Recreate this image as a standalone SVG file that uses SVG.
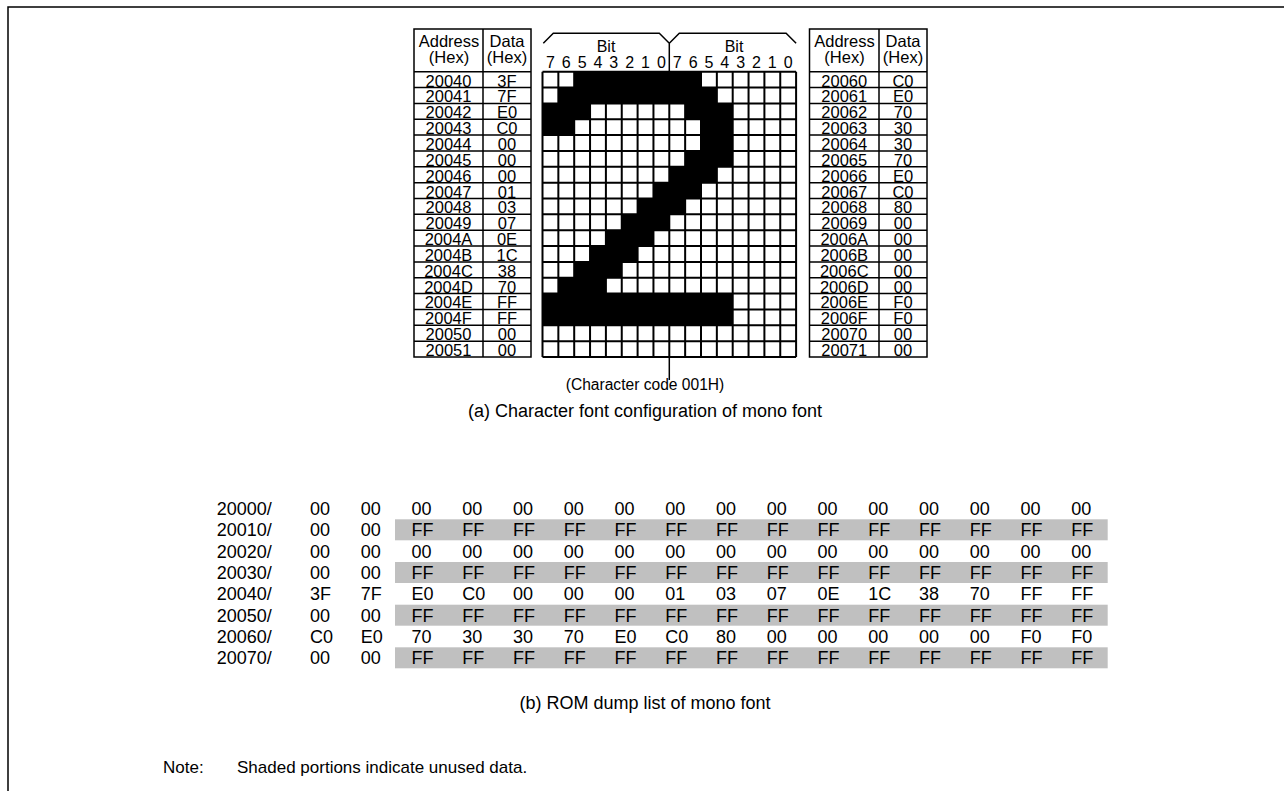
<svg xmlns="http://www.w3.org/2000/svg" width="1284" height="791" viewBox="0 0 1284 791">
<style>
text{font-family:"Liberation Sans",Arial,sans-serif;fill:#000}
.t{font-size:16.5px}
.b{font-size:16px}
.cc{font-size:15.6px}
.c{text-anchor:middle}
.cap{font-size:18px}
.n{font-size:17px}
.d{font-size:18px}
.ln{fill:none;stroke:#000;stroke-width:1.5}
.gl{fill:none;stroke:#000;stroke-width:2}
.band{fill:#c0c0c0}
</style>
<rect width="1284" height="791" fill="#fff"/>
<g id="frame"><path d="M8 791V7H1284" class="ln" stroke-width="2"/></g>

<g id="left-table">
<rect x="414" y="29" width="117" height="328" class="ln"/>
<path class="ln" d="M483 29V357M414 71.7H531M414 87.55H531M414 103.4H531M414 119.25H531M414 135.1H531M414 150.95H531M414 166.8H531M414 182.65H531M414 198.5H531M414 214.35H531M414 230.2H531M414 246.05H531M414 261.9H531M414 277.75H531M414 293.6H531M414 309.45H531M414 325.3H531M414 341.15H531"/>
<text class="t c" x="449" y="47">Address</text>
<text class="t c" x="449" y="62.5">(Hex)</text>
<text class="t c" x="507" y="47">Data</text>
<text class="t c" x="507" y="62.5">(Hex)</text>
<g class="t c">
<text x="448.5" y="86.5">20040</text><text x="448.5" y="102.4">20041</text><text x="448.5" y="118.2">20042</text><text x="448.5" y="134.1">20043</text><text x="448.5" y="149.9">20044</text><text x="448.5" y="165.8">20045</text><text x="448.5" y="181.6">20046</text><text x="448.5" y="197.5">20047</text><text x="448.5" y="213.3">20048</text><text x="448.5" y="229.2">20049</text><text x="448.5" y="245">2004A</text><text x="448.5" y="260.9">2004B</text><text x="448.5" y="276.7">2004C</text><text x="448.5" y="292.6">2004D</text><text x="448.5" y="308.4">2004E</text><text x="448.5" y="324.3">2004F</text><text x="448.5" y="340.1">20050</text><text x="448.5" y="356">20051</text>
<text x="507" y="86.5">3F</text><text x="507" y="102.4">7F</text><text x="507" y="118.2">E0</text><text x="507" y="134.1">C0</text><text x="507" y="149.9">00</text><text x="507" y="165.8">00</text><text x="507" y="181.6">00</text><text x="507" y="197.5">01</text><text x="507" y="213.3">03</text><text x="507" y="229.2">07</text><text x="507" y="245">0E</text><text x="507" y="260.9">1C</text><text x="507" y="276.7">38</text><text x="507" y="292.6">70</text><text x="507" y="308.4">FF</text><text x="507" y="324.3">FF</text><text x="507" y="340.1">00</text><text x="507" y="356">00</text>
</g>
</g>

<g id="bit-header">
<path class="ln" d="M543.3 43.3L553.3 33.3H659.3L669.3 43.3M669.3 43.3L679.3 33.3H786.1L796.1 43.3M669.3 43.3V71.7"/>
<text class="b c" x="606" y="52">Bit</text>
<text class="b c" x="734" y="52">Bit</text>
<g class="b c">
<text x="550.4" y="67.5">7</text><text x="566.3" y="67.5">6</text><text x="582.1" y="67.5">5</text><text x="598" y="67.5">4</text><text x="613.8" y="67.5">3</text><text x="629.7" y="67.5">2</text><text x="645.5" y="67.5">1</text><text x="661.4" y="67.5">0</text>
<text x="677.2" y="67.5">7</text><text x="693.1" y="67.5">6</text><text x="708.9" y="67.5">5</text><text x="724.8" y="67.5">4</text><text x="740.6" y="67.5">3</text><text x="756.5" y="67.5">2</text><text x="772.3" y="67.5">1</text><text x="788.2" y="67.5">0</text>
</g>
</g>

<g id="font-grid">
<rect x="542.5" y="71.7" width="253.6" height="285.3" fill="#fff"/>
<g fill="#000">
<rect x="574.2" y="71.7" width="126.8" height="15.85"/>
<rect x="558.35" y="87.55" width="158.5" height="15.85"/>
<rect x="542.5" y="103.4" width="47.55" height="15.85"/><rect x="685.15" y="103.4" width="47.55" height="15.85"/>
<rect x="542.5" y="119.25" width="31.7" height="15.85"/><rect x="701" y="119.25" width="31.7" height="15.85"/>
<rect x="701" y="135.1" width="31.7" height="15.85"/>
<rect x="685.15" y="150.95" width="47.55" height="15.85"/>
<rect x="669.3" y="166.8" width="47.55" height="15.85"/>
<rect x="653.45" y="182.65" width="47.55" height="15.85"/>
<rect x="637.6" y="198.5" width="47.55" height="15.85"/>
<rect x="621.75" y="214.35" width="47.55" height="15.85"/>
<rect x="605.9" y="230.2" width="47.55" height="15.85"/>
<rect x="590.05" y="246.05" width="47.55" height="15.85"/>
<rect x="574.2" y="261.9" width="47.55" height="15.85"/>
<rect x="558.35" y="277.75" width="47.55" height="15.85"/>
<rect x="542.5" y="293.6" width="190.2" height="31.7"/>
</g>
<path class="gl" d="M542.5 71.7V357M558.35 71.7V357M574.2 71.7V357M590.05 71.7V357M605.9 71.7V357M621.75 71.7V357M637.6 71.7V357M653.45 71.7V357M669.3 71.7V357M685.15 71.7V357M701 71.7V357M716.85 71.7V357M732.7 71.7V357M748.55 71.7V357M764.4 71.7V357M780.25 71.7V357M796.1 71.7V357M542.5 71.7H796.1M542.5 87.55H796.1M542.5 103.4H796.1M542.5 119.25H796.1M542.5 135.1H796.1M542.5 150.95H796.1M542.5 166.8H796.1M542.5 182.65H796.1M542.5 198.5H796.1M542.5 214.35H796.1M542.5 230.2H796.1M542.5 246.05H796.1M542.5 261.9H796.1M542.5 277.75H796.1M542.5 293.6H796.1M542.5 309.45H796.1M542.5 325.3H796.1M542.5 341.15H796.1M542.5 357H796.1"/>
</g>

<g id="right-table">
<rect x="809.5" y="29" width="117.5" height="328" class="ln"/>
<path class="ln" d="M879 29V357M809.5 71.7H927M809.5 87.55H927M809.5 103.4H927M809.5 119.25H927M809.5 135.1H927M809.5 150.95H927M809.5 166.8H927M809.5 182.65H927M809.5 198.5H927M809.5 214.35H927M809.5 230.2H927M809.5 246.05H927M809.5 261.9H927M809.5 277.75H927M809.5 293.6H927M809.5 309.45H927M809.5 325.3H927M809.5 341.15H927"/>
<text class="t c" x="844.5" y="47">Address</text>
<text class="t c" x="844.5" y="62.5">(Hex)</text>
<text class="t c" x="903" y="47">Data</text>
<text class="t c" x="903" y="62.5">(Hex)</text>
<g class="t c">
<text x="844.25" y="86.5">20060</text><text x="844.25" y="102.4">20061</text><text x="844.25" y="118.2">20062</text><text x="844.25" y="134.1">20063</text><text x="844.25" y="149.9">20064</text><text x="844.25" y="165.8">20065</text><text x="844.25" y="181.6">20066</text><text x="844.25" y="197.5">20067</text><text x="844.25" y="213.3">20068</text><text x="844.25" y="229.2">20069</text><text x="844.25" y="245">2006A</text><text x="844.25" y="260.9">2006B</text><text x="844.25" y="276.7">2006C</text><text x="844.25" y="292.6">2006D</text><text x="844.25" y="308.4">2006E</text><text x="844.25" y="324.3">2006F</text><text x="844.25" y="340.1">20070</text><text x="844.25" y="356">20071</text>
<text x="903" y="86.5">C0</text><text x="903" y="102.4">E0</text><text x="903" y="118.2">70</text><text x="903" y="134.1">30</text><text x="903" y="149.9">30</text><text x="903" y="165.8">70</text><text x="903" y="181.6">E0</text><text x="903" y="197.5">C0</text><text x="903" y="213.3">80</text><text x="903" y="229.2">00</text><text x="903" y="245">00</text><text x="903" y="260.9">00</text><text x="903" y="276.7">00</text><text x="903" y="292.6">00</text><text x="903" y="308.4">F0</text><text x="903" y="324.3">F0</text><text x="903" y="340.1">00</text><text x="903" y="356">00</text>
</g>
</g>

<g id="connectors">
<path class="ln" d="M669.3 357V380"/>
</g>

<g id="char-code-label"><text class="cc c" x="645" y="390">(Character code 001H)</text></g>
<g id="caption-a"><text class="cap c" x="645" y="417">(a) Character font configuration of mono font</text></g>

<g id="dump-table">
<rect class="band" x="395" y="519.3" width="712.7" height="21"/>
<rect class="band" x="395" y="562" width="712.7" height="21"/>
<rect class="band" x="395" y="604.7" width="712.7" height="21"/>
<rect class="band" x="395" y="647.3" width="712.7" height="21"/>
<g class="d">
<text y="515"><tspan x="216.7">20000/</tspan><tspan x="310">00</tspan><tspan x="360.75">00</tspan><tspan x="411.5">00</tspan><tspan x="462.25">00</tspan><tspan x="513">00</tspan><tspan x="563.75">00</tspan><tspan x="614.5">00</tspan><tspan x="665.25">00</tspan><tspan x="716">00</tspan><tspan x="766.75">00</tspan><tspan x="817.5">00</tspan><tspan x="868.25">00</tspan><tspan x="919">00</tspan><tspan x="969.75">00</tspan><tspan x="1020.5">00</tspan><tspan x="1071.25">00</tspan></text>
<text y="536.3"><tspan x="216.7">20010/</tspan><tspan x="310">00</tspan><tspan x="360.75">00</tspan><tspan x="411.5">FF</tspan><tspan x="462.25">FF</tspan><tspan x="513">FF</tspan><tspan x="563.75">FF</tspan><tspan x="614.5">FF</tspan><tspan x="665.25">FF</tspan><tspan x="716">FF</tspan><tspan x="766.75">FF</tspan><tspan x="817.5">FF</tspan><tspan x="868.25">FF</tspan><tspan x="919">FF</tspan><tspan x="969.75">FF</tspan><tspan x="1020.5">FF</tspan><tspan x="1071.25">FF</tspan></text>
<text y="557.7"><tspan x="216.7">20020/</tspan><tspan x="310">00</tspan><tspan x="360.75">00</tspan><tspan x="411.5">00</tspan><tspan x="462.25">00</tspan><tspan x="513">00</tspan><tspan x="563.75">00</tspan><tspan x="614.5">00</tspan><tspan x="665.25">00</tspan><tspan x="716">00</tspan><tspan x="766.75">00</tspan><tspan x="817.5">00</tspan><tspan x="868.25">00</tspan><tspan x="919">00</tspan><tspan x="969.75">00</tspan><tspan x="1020.5">00</tspan><tspan x="1071.25">00</tspan></text>
<text y="579"><tspan x="216.7">20030/</tspan><tspan x="310">00</tspan><tspan x="360.75">00</tspan><tspan x="411.5">FF</tspan><tspan x="462.25">FF</tspan><tspan x="513">FF</tspan><tspan x="563.75">FF</tspan><tspan x="614.5">FF</tspan><tspan x="665.25">FF</tspan><tspan x="716">FF</tspan><tspan x="766.75">FF</tspan><tspan x="817.5">FF</tspan><tspan x="868.25">FF</tspan><tspan x="919">FF</tspan><tspan x="969.75">FF</tspan><tspan x="1020.5">FF</tspan><tspan x="1071.25">FF</tspan></text>
<text y="600.3"><tspan x="216.7">20040/</tspan><tspan x="310">3F</tspan><tspan x="360.75">7F</tspan><tspan x="411.5">E0</tspan><tspan x="462.25">C0</tspan><tspan x="513">00</tspan><tspan x="563.75">00</tspan><tspan x="614.5">00</tspan><tspan x="665.25">01</tspan><tspan x="716">03</tspan><tspan x="766.75">07</tspan><tspan x="817.5">0E</tspan><tspan x="868.25">1C</tspan><tspan x="919">38</tspan><tspan x="969.75">70</tspan><tspan x="1020.5">FF</tspan><tspan x="1071.25">FF</tspan></text>
<text y="621.7"><tspan x="216.7">20050/</tspan><tspan x="310">00</tspan><tspan x="360.75">00</tspan><tspan x="411.5">FF</tspan><tspan x="462.25">FF</tspan><tspan x="513">FF</tspan><tspan x="563.75">FF</tspan><tspan x="614.5">FF</tspan><tspan x="665.25">FF</tspan><tspan x="716">FF</tspan><tspan x="766.75">FF</tspan><tspan x="817.5">FF</tspan><tspan x="868.25">FF</tspan><tspan x="919">FF</tspan><tspan x="969.75">FF</tspan><tspan x="1020.5">FF</tspan><tspan x="1071.25">FF</tspan></text>
<text y="643"><tspan x="216.7">20060/</tspan><tspan x="310">C0</tspan><tspan x="360.75">E0</tspan><tspan x="411.5">70</tspan><tspan x="462.25">30</tspan><tspan x="513">30</tspan><tspan x="563.75">70</tspan><tspan x="614.5">E0</tspan><tspan x="665.25">C0</tspan><tspan x="716">80</tspan><tspan x="766.75">00</tspan><tspan x="817.5">00</tspan><tspan x="868.25">00</tspan><tspan x="919">00</tspan><tspan x="969.75">00</tspan><tspan x="1020.5">F0</tspan><tspan x="1071.25">F0</tspan></text>
<text y="664.3"><tspan x="216.7">20070/</tspan><tspan x="310">00</tspan><tspan x="360.75">00</tspan><tspan x="411.5">FF</tspan><tspan x="462.25">FF</tspan><tspan x="513">FF</tspan><tspan x="563.75">FF</tspan><tspan x="614.5">FF</tspan><tspan x="665.25">FF</tspan><tspan x="716">FF</tspan><tspan x="766.75">FF</tspan><tspan x="817.5">FF</tspan><tspan x="868.25">FF</tspan><tspan x="919">FF</tspan><tspan x="969.75">FF</tspan><tspan x="1020.5">FF</tspan><tspan x="1071.25">FF</tspan></text>
</g>
</g>

<g id="caption-b"><text class="cap c" x="645" y="709">(b) ROM dump list of mono font</text></g>
<g id="note"><text class="n" x="163" y="773">Note:</text><text class="n" x="237" y="773">Shaded portions indicate unused data.</text></g>
</svg>
